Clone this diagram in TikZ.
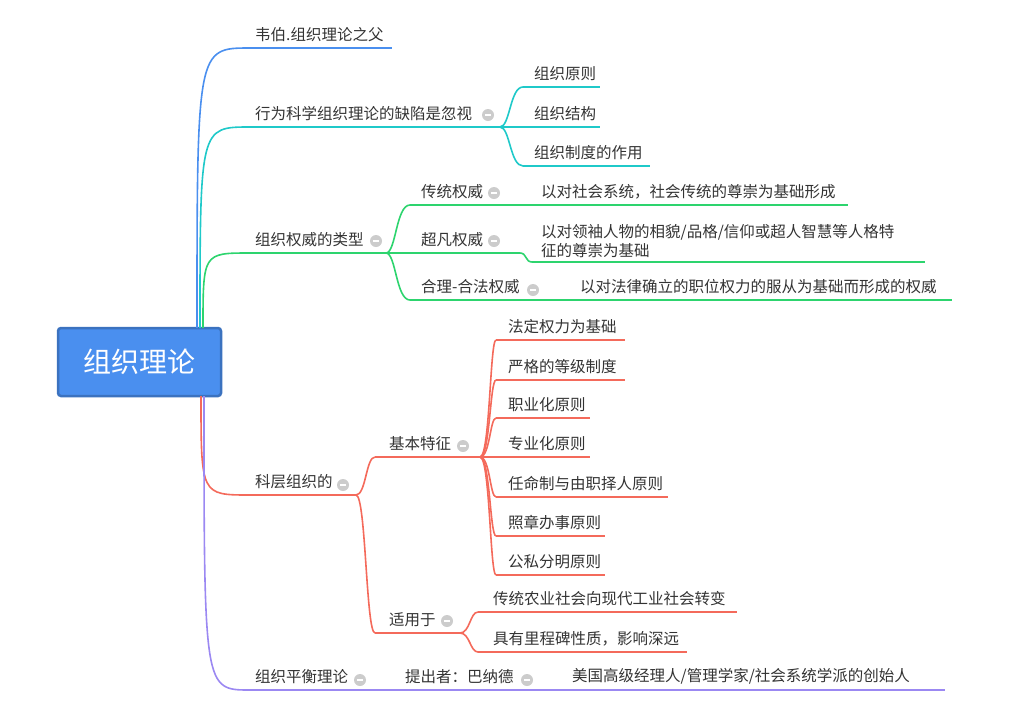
\documentclass[tikz,border=0pt]{standalone}
\usepackage{fontspec}
\setmainfont{Noto Sans CJK SC}
\usetikzlibrary{calc}
\definecolor{cblue}{HTML}{4A8FEF}
\definecolor{ccyan}{HTML}{1FC9C9}
\definecolor{cgreen}{HTML}{2DD46E}
\definecolor{cred}{HTML}{F46A5B}
\definecolor{cpurp}{HTML}{9B88F2}
\definecolor{ctext}{HTML}{333333}
\tikzset{
 lbl/.style={font=\fontsize{15.5}{17}\selectfont,text=ctext,inner sep=0pt,anchor=south west},
 ul/.style={line width=1.6pt},
 icon/.style={circle,fill=black!20,minimum size=12pt,inner sep=0pt,path picture={\draw[white,line width=1.3pt] ($(path picture bounding box.center)+(-3,0)$)--($(path picture bounding box.center)+(3,0)$);}},
 br/.style={line width=1.6pt}
}
\newcommand\leaf[7][5]{%
 \coordinate (#2s) at (#3,#5); \coordinate (#2e) at (#4,#5);
 \draw[ul,#6] (#2s) -- (#2e);
 \node[lbl] (#2) at ($(#2s)+(#1,-6)$) {#7};}
\newcommand\conn[3]{\draw[br,#3] (#1) .. controls ($(#1)+(10,0)$) and ($(#1|-#2)+(10,0)$) .. (#2);}
\begin{document}
\begin{tikzpicture}[x=1pt,y=-1pt]
\useasboundingbox (0,0) rectangle (1036,702);
% root
\node[draw=cblue!80!black,line width=2.5pt,fill=cblue,rounded corners=3pt,minimum width=163pt,minimum height=68pt,text=white,font=\fontsize{28}{30}\selectfont] (root) at (139.5,362) {组织理论};
\coordinate (r1) at (197,328); \coordinate (r2) at (200,328); \coordinate (r3) at (203,328);
\coordinate (r4) at (201,396); \coordinate (r5) at (204,396);
% level 1
\leaf{a}{250}{392}{48}{cblue}{韦伯.组织理论之父}
\leaf{b}{250}{500}{127}{ccyan}{行为科学组织理论的缺陷是忽视}
\leaf{c}{250}{386}{253}{cgreen}{组织权威的类型}
\leaf{d}{250}{356}{495}{cred}{科层组织的}
\leaf{e}{250}{945}{690}{cpurp}{组织平衡理论}
\draw[br,cblue] (r1) .. controls (197,48) .. (as);
\draw[br,ccyan] (r2) .. controls (200,127) .. (bs);
\draw[br,cgreen] (r3) .. controls (203,253) .. (cs);
\draw[br,cred] (r4) .. controls (201,495) .. (ds);
\draw[br,cpurp] (r5) .. controls (204,690) .. (es);
% b children
\leaf[11]{b1}{523}{600}{87}{ccyan}{组织原则}
\leaf[11]{b2}{523}{600}{127}{ccyan}{组织结构}
\leaf[11]{b3}{523}{650}{166}{ccyan}{组织制度的作用}
\conn{be}{b1s}{ccyan}\conn{be}{b2s}{ccyan}\conn{be}{b3s}{ccyan}
% c children
\leaf[11]{c1}{410}{848}{205}{cgreen}{传统权威}
\node[lbl] (c1d) at (541,199) {以对社会系统，社会传统的尊崇为基础形成};
\leaf[11]{c2}{410}{520}{253}{cgreen}{超凡权威}
\coordinate (c2ds) at (532,262); \coordinate (c2de) at (925,262);
\draw[ul,cgreen] (c2ds) -- (c2de);
\draw[br,cgreen] (c2e) .. controls (527,253) and (525,262) .. (c2ds);
\node[lbl,align=left,font=\fontsize{15.5}{19}\selectfont] (c2d) at (541,258) {以对领袖人物的相貌/品格/信仰或超人智慧等人格特\\征的尊崇为基础};
\leaf[11]{c3}{410}{952}{300}{cgreen}{合理-合法权威}
\node[lbl] (c3d) at (580,294) {以对法律确立的职位权力的服从为基础而形成的权威};
\conn{ce}{c1s}{cgreen}\conn{ce}{c2s}{cgreen}\conn{ce}{c3s}{cgreen}
% d children
\leaf[14]{d1}{375}{480}{457}{cred}{基本特征}
\leaf[14]{d2}{375}{460}{633}{cred}{适用于}
\conn{de}{d1s}{cred}\conn{de}{d2s}{cred}
\leaf[12]{f1}{496}{625}{340}{cred}{法定权力为基础}
\leaf[12]{f2}{496}{625}{380}{cred}{严格的等级制度}
\leaf[12]{f3}{496}{590}{418}{cred}{职业化原则}
\leaf[12]{f4}{496}{590}{457}{cred}{专业化原则}
\leaf[12]{f5}{496}{668}{497}{cred}{任命制与由职择人原则}
\leaf[12]{f6}{496}{605}{536}{cred}{照章办事原则}
\leaf[12]{f7}{496}{605}{575}{cred}{公私分明原则}
\foreach \i in {1,...,7}{\conn{d1e}{f\i s}{cred}}
\leaf[15]{g1}{478}{737}{612}{cred}{传统农业社会向现代工业社会转变}
\leaf[15]{g2}{478}{687}{652}{cred}{具有里程碑性质，影响深远}
\conn{d2e}{g1s}{cred}\conn{d2e}{g2s}{cred}
% e
\node[lbl] (e1) at (405,684) {提出者：巴纳德};
\node[lbl] (e2) at (572,684) {美国高级经理人/管理学家/社会系统学派的创始人};
% icons
\foreach \p/\n in {{(488,115)}/i1,{(376,241)}/i2,{(494,193)}/i3,{(494,241)}/i4,{(533,290)}/i5,{(463,446)}/i6,{(343,485)}/i7,{(447,621)}/i8,{(360,680)}/i9,{(527,680)}/i10}
 \node[icon] (\n) at \p {};
\end{tikzpicture}
\end{document}
